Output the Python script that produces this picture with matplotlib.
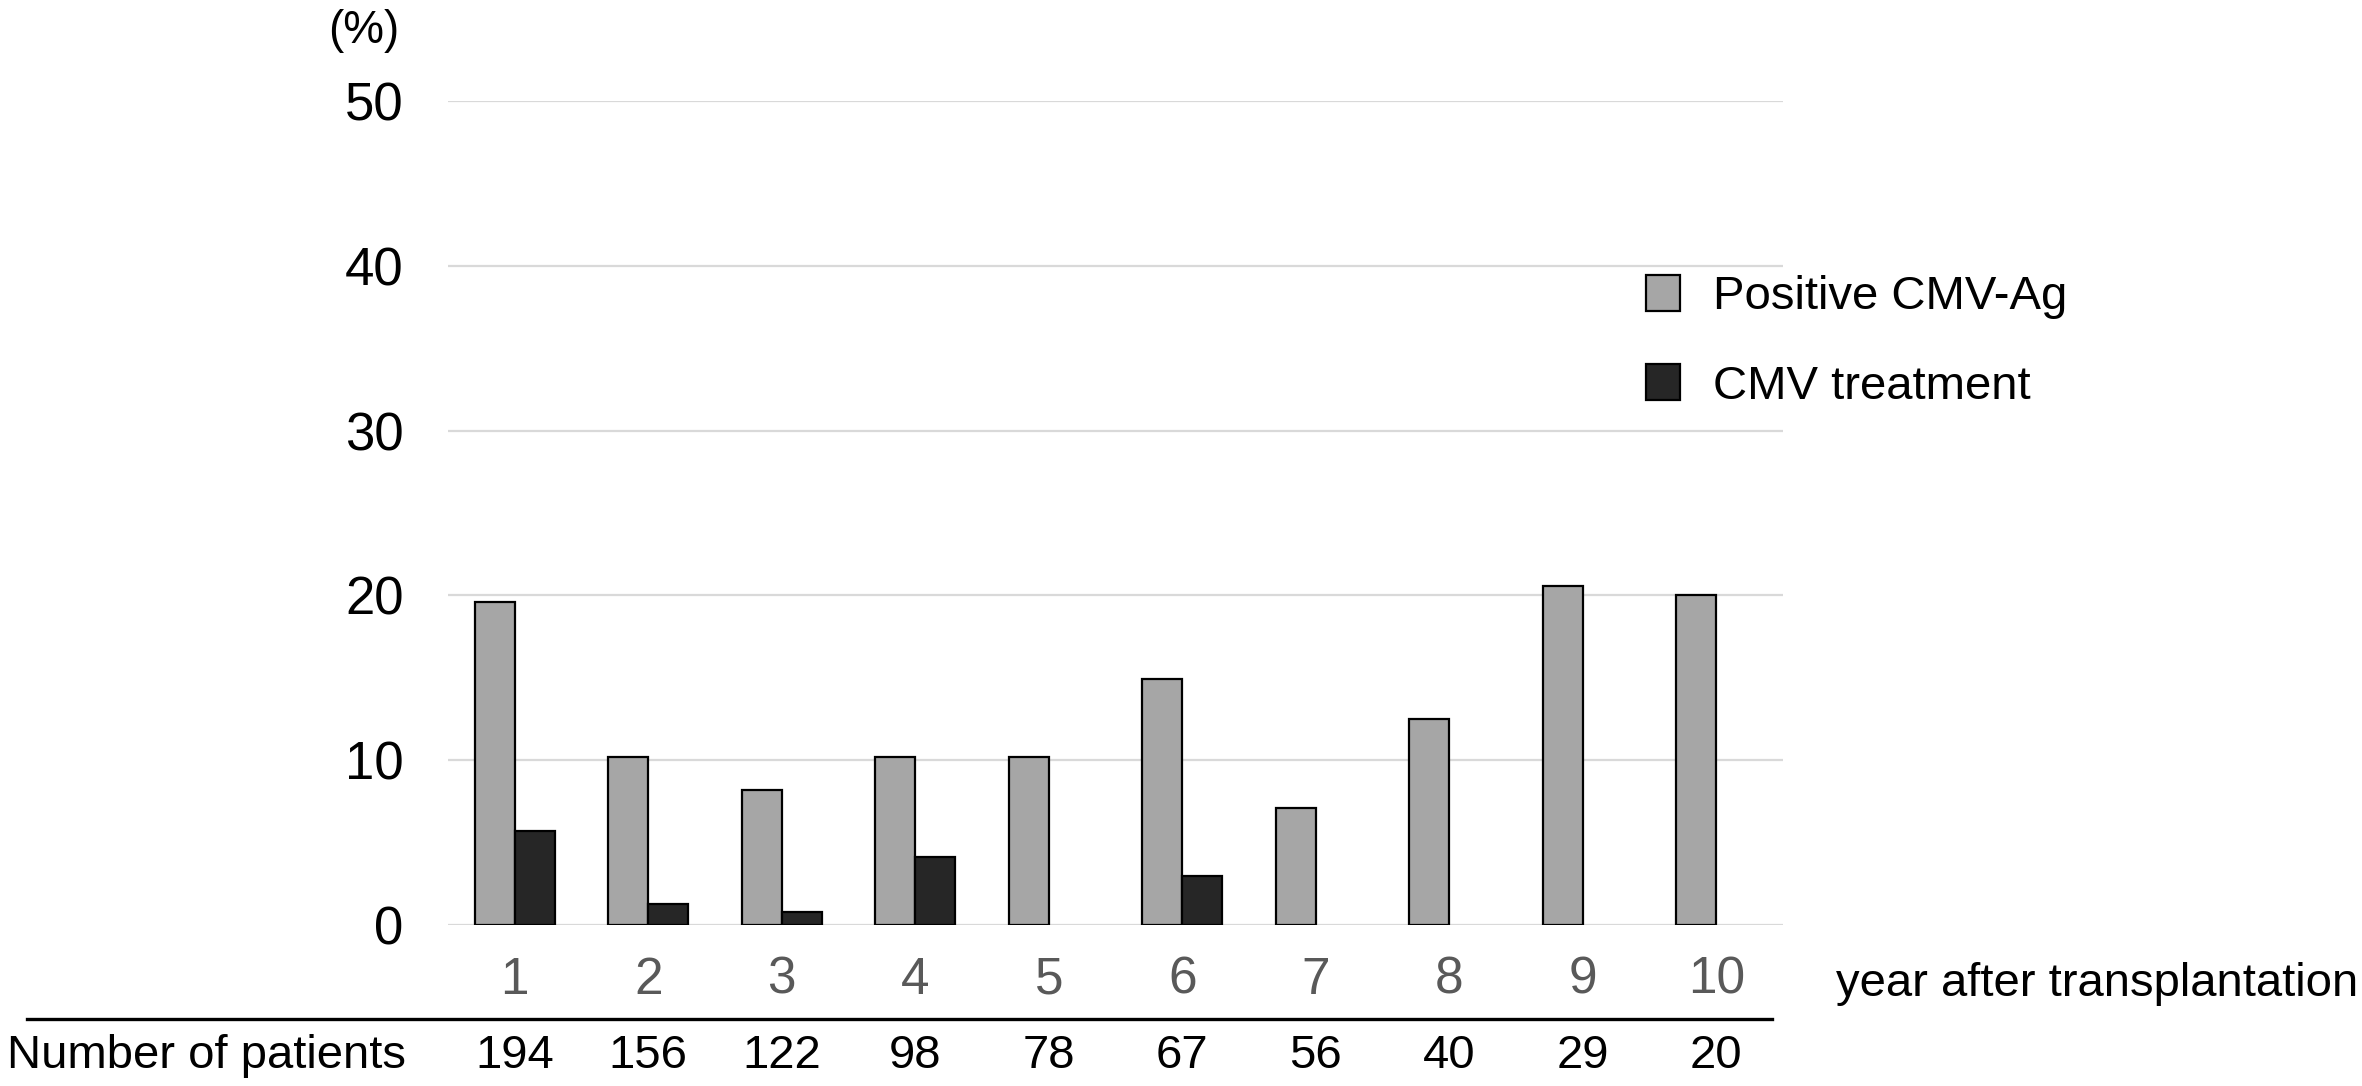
import matplotlib
matplotlib.use("Agg")
import matplotlib.pyplot as plt
import numpy as np
from matplotlib.patches import Patch
from matplotlib.lines import Line2D
import matplotlib.transforms as mtransforms

plt.rcParams['font.family'] = ['Liberation Sans', 'DejaVu Sans']

years = [1, 2, 3, 4, 5, 6, 7, 8, 9, 10]
year_labels = ["1", "2", "3", "4", "5", "6", "7", "8", "9", "10"]
positive_cmv_ag = [19.6, 10.2, 8.2, 10.2, 10.2, 14.9, 7.1, 12.5, 20.6, 20.0]
cmv_treatment = [5.7, 1.3, 0.8, 4.1, 0.0, 3.0, 0.0, 0.0, 0.0, 0.0]
patients = [194, 156, 122, 98, 78, 67, 56, 40, 29, 20]
y_ticks = [0, 10, 20, 30, 40, 50]

GRAY = "#a6a6a6"
DARK = "#262626"

fig = plt.figure(figsize=(23.62, 10.86), dpi=100)
ax = fig.add_axes([448/2362, 1-925/1086, (1783-448)/2362, (925-101)/1086])

x = np.array(years, dtype=float)
w = 0.3
ax.bar(x - w/2, positive_cmv_ag, width=w, color=GRAY, edgecolor="black", linewidth=1.6, zorder=3)
tr = np.array(cmv_treatment)
mask = tr > 0
ax.bar(x[mask] + w/2, tr[mask], width=w, color=DARK, edgecolor="black", linewidth=1.6, zorder=3)

ax.set_xlim(0.5, 10.5)
ax.set_ylim(0, 50)
ax.set_yticks(y_ticks)
ax.set_yticklabels([str(v) for v in y_ticks], fontsize=38)
ax.yaxis.grid(True, color="#d9d9d9", linewidth=1.6, zorder=0)
ax.set_axisbelow(True)
ax.tick_params(axis='y', length=0, pad=32)
ax.set_xticks(x)
ax.set_xticklabels(year_labels, fontsize=37, color="#595959")
ax.tick_params(axis='x', length=0, pad=22)
for s in ax.spines.values():
    s.set_visible(False)

fig.text(364/2362, 1-31/1086, "(%)", fontsize=33, ha='center', va='center')
fig.text(1836/2362, 1-984/1086, "year after transplantation", fontsize=34, ha='left', va='center')

fig.add_artist(Line2D([27/2362, 1772/2362], [1-1019/1086, 1-1019/1086], color="black",
                      linewidth=2.4, transform=fig.transFigure))

fig.text(7/2362, 1-1056/1086, "Number of patients", fontsize=34, ha='left', va='center')
blend = mtransforms.blended_transform_factory(ax.transData, fig.transFigure)
for xi, n in zip(x, patients):
    ax.text(xi, 1-1056/1086, str(n), fontsize=34, ha='center', va='center', transform=blend, clip_on=False)

handles = [Patch(facecolor=GRAY, edgecolor="black", linewidth=1.6, label="Positive CMV-Ag"),
           Patch(facecolor=DARK, edgecolor="black", linewidth=1.6, label="CMV treatment")]
fig.legend(handles=handles, loc='upper left', bbox_to_anchor=(1646/2362, 1-275/1086),
           frameon=False, fontsize=34, handlelength=0.72, handleheight=0.8,
           handletextpad=0.7, labelspacing=0.95, borderpad=0, borderaxespad=0)

fig.savefig("out.png", dpi=100)
